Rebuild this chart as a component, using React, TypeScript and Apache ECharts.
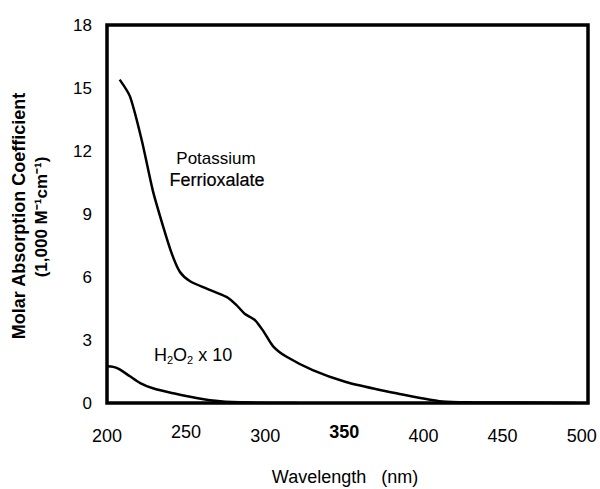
import React, { useEffect, useRef } from "react";
import * as echarts from "echarts";

const FONT = "'Liberation Sans', Arial, sans-serif";

// Potassium ferrioxalate absorption (1,000 M^-1 cm^-1)
const ferriWavelength = [208, 214.5, 222, 229, 235.5, 241, 246, 252.5, 263, 275.5, 282, 287, 293.5, 299, 305, 313.5, 330, 351, 372.5, 385, 398, 412, 430, 460, 496];
const ferriValues = [15.4, 14.6, 12.5, 10.1, 8.4, 7.1, 6.25, 5.8, 5.45, 5.05, 4.65, 4.25, 3.95, 3.4, 2.7, 2.2, 1.57, 1.0, 0.62, 0.43, 0.24, 0.07, 0.03, 0.02, 0.0];

// H2O2 x 10
const h2o2Wavelength = [200, 204, 208, 214.5, 221, 229, 242, 256.5, 271.5, 290, 320];
const h2o2Values = [1.75, 1.72, 1.6, 1.27, 0.95, 0.7, 0.46, 0.24, 0.08, 0.02, 0.0];

const xTickLabels = [200, 250, 300, 350, 400, 450, 500];
const xRaisedLabels = [250, 350];
const yTickLabels = [0, 3, 6, 9, 12, 15, 18];

export default function App() {
  const ref = useRef<HTMLDivElement>(null);

  useEffect(() => {
    if (!ref.current) return;
    const chart = echarts.init(ref.current, undefined, { renderer: "svg" });
    const pairs = (xs: number[], ys: number[]) => xs.map((x, i) => [x, ys[i]]);
    chart.setOption({
      animation: false,
      backgroundColor: "#fff",
      grid: {
        left: 107,
        right: 12,
        top: 25,
        bottom: 86,
        show: true,
        borderColor: "#000",
        borderWidth: 3.5,
        backgroundColor: "transparent",
      },
      xAxis: {
        type: "value",
        min: 200,
        max: 504,
        interval: 50,
        axisLine: { show: false },
        axisTick: { show: false },
        splitLine: { show: false },
        axisLabel: {
          margin: 20,
          color: "#000",
          fontSize: 18,
          fontFamily: FONT,
          formatter: (v: number) => {
            if (!xTickLabels.includes(v)) return "";
            if (v === 350) return `{b|${v}}`;
            if (xRaisedLabels.includes(v)) return `{r|${v}}`;
            return `{a|${v}}`;
          },
          rich: {
            a: { fontSize: 18, fontFamily: FONT, color: "#000", padding: [4, 0, 0, 0] },
            r: { fontSize: 18, fontFamily: FONT, color: "#000", padding: [0, 0, 4, 0] },
            b: { fontSize: 18, fontWeight: "bold", fontFamily: FONT, color: "#000", padding: [0, 0, 4, 0] },
          },
        },
      },
      yAxis: {
        type: "value",
        min: 0,
        max: 18,
        interval: 3,
        axisLine: { show: false },
        axisTick: { show: false },
        splitLine: { show: false },
        axisLabel: {
          margin: 15,
          color: "#000",
          fontSize: 17,
          fontFamily: FONT,
          formatter: (v: number) => (yTickLabels.includes(v) ? `${v}` : ""),
        },
      },
      series: [
        {
          name: "Potassium Ferrioxalate",
          type: "line",
          data: pairs(ferriWavelength, ferriValues),
          smooth: 0.25,
          showSymbol: false,
          lineStyle: { color: "#000", width: 2.5 },
        },
        {
          name: "H2O2 x 10",
          type: "line",
          data: pairs(h2o2Wavelength, h2o2Values),
          smooth: 0.3,
          showSymbol: false,
          lineStyle: { color: "#000", width: 2.5 },
        },
      ],
      graphic: [
        {
          type: "text",
          x: 18.5,
          y: 216,
          rotation: Math.PI / 2,
          style: {
            text: "Molar Absorption Coefficient",
            fontSize: 18,
            fontWeight: "bold",
            fontFamily: FONT,
            fill: "#000",
            align: "center",
            verticalAlign: "middle",
          },
        },
        {
          type: "text",
          x: 41,
          y: 217,
          rotation: Math.PI / 2,
          style: {
            text: "(1,000 M⁻¹cm⁻¹)",
            fontSize: 17,
            fontWeight: "bold",
            fontFamily: FONT,
            fill: "#000",
            align: "center",
            verticalAlign: "middle",
          },
        },
        {
          type: "text",
          x: 345,
          y: 477,
          style: {
            text: "Wavelength\u00a0\u00a0\u00a0(nm)",
            fontSize: 18,
            fontFamily: FONT,
            fill: "#000",
            align: "center",
            verticalAlign: "middle",
          },
        },
        {
          type: "text",
          x: 216,
          y: 158,
          style: {
            text: "Potassium",
            fontSize: 17,
            fontFamily: FONT,
            fill: "#000",
            align: "center",
            verticalAlign: "middle",
          },
        },
        {
          type: "text",
          x: 217,
          y: 180,
          style: {
            text: "Ferrioxalate",
            fontSize: 18,
            fontFamily: FONT,
            fill: "#000",
            stroke: "#000",
            lineWidth: 0.2,
            align: "center",
            verticalAlign: "middle",
          },
        },
        {
          type: "text",
          x: 154,
          y: 355,
          style: {
            text: "{n|H}{s|2}{n|O}{s|2}{n| x 10}",
            fontFamily: FONT,
            fill: "#000",
            align: "left",
            verticalAlign: "middle",
            rich: {
              n: { fontSize: 18, fontFamily: FONT, color: "#000" },
              s: { fontSize: 11, fontFamily: FONT, color: "#000", padding: [10, 0, 0, 0] },
            },
          },
        },
      ],
    });
    return () => chart.dispose();
  }, []);

  return (
    <div
      ref={ref}
      style={{ position: "absolute", left: 0, top: 0, width: 600, height: 489 }}
    />
  );
}
